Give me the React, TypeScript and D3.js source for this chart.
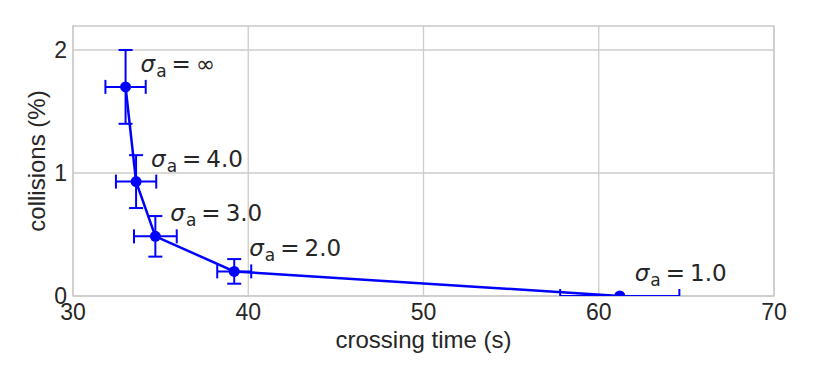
import React, { useRef, useEffect } from 'react';
import * as d3 from 'd3';

// crossing time (s) vs collision rate (%) for each sigma_a
const labels = ['∞', '4.0', '3.0', '2.0', '1.0'];
const crossingTime = [33.0, 33.6, 34.7, 39.2, 61.2];
const crossingErr = [1.15, 1.15, 1.22, 0.97, 3.4];
const collisions = [1.7, 0.93, 0.485, 0.2, 0.0];
const collisionsErr = [0.3, 0.215, 0.165, 0.1, 0.0];
const xTicks = [30, 40, 50, 60, 70];
const yTicks = [0, 1, 2];

const App = () => {
  const svgRef = useRef<SVGSVGElement>(null);
  const width = 814;
  const height = 380;

  useEffect(() => {
    const svg = d3.select(svgRef.current);
    svg.selectAll('*').remove();

    const margin = { top: 26, right: 40, bottom: 84, left: 73 };
    const innerWidth = width - margin.left - margin.right;
    const innerHeight = height - margin.top - margin.bottom;
    const textColor = '#262626';
    const gridColor = '#cccccc';
    const blue = '#0000ff';

    const x = d3.scaleLinear().domain([30, 70]).range([0, innerWidth]);
    const y = d3.scaleLinear().domain([0, 2.195]).range([innerHeight, 0]);

    svg.append('defs')
      .append('clipPath')
      .attr('id', 'plot-clip')
      .append('rect')
      .attr('width', innerWidth)
      .attr('height', innerHeight);

    const chart = svg.append('g').attr('transform', `translate(${margin.left},${margin.top})`);

    // grid
    chart.selectAll('.xgrid').data(xTicks).enter().append('line')
      .attr('x1', d => x(d)).attr('x2', d => x(d))
      .attr('y1', 0).attr('y2', innerHeight)
      .attr('stroke', gridColor).attr('stroke-width', 1.3);
    chart.selectAll('.ygrid').data(yTicks).enter().append('line')
      .attr('x1', 0).attr('x2', innerWidth)
      .attr('y1', d => y(d)).attr('y2', d => y(d))
      .attr('stroke', gridColor).attr('stroke-width', 1.3);

    // frame
    chart.append('rect')
      .attr('width', innerWidth).attr('height', innerHeight)
      .attr('fill', 'none').attr('stroke', gridColor).attr('stroke-width', 1.6);

    // tick labels
    chart.selectAll('.xtick').data(xTicks).enter().append('text')
      .attr('x', d => x(d)).attr('y', innerHeight + 24)
      .attr('text-anchor', 'middle')
      .attr('font-family', 'Liberation Sans, Arial, sans-serif')
      .attr('font-size', 23).attr('fill', textColor)
      .text(d => d);
    chart.selectAll('.ytick').data(yTicks).enter().append('text')
      .attr('x', -6).attr('y', d => y(d) + 8)
      .attr('text-anchor', 'end')
      .attr('font-family', 'Liberation Sans, Arial, sans-serif')
      .attr('font-size', 23).attr('fill', textColor)
      .text(d => d);

    const data = crossingTime.map((t, i) => ({
      t, c: collisions[i], te: crossingErr[i], ce: collisionsErr[i], label: labels[i],
    }));

    const plot = chart.append('g').attr('clip-path', 'url(#plot-clip)');

    // connecting line
    plot.append('path')
      .datum(data)
      .attr('fill', 'none').attr('stroke', blue).attr('stroke-width', 2.5)
      .attr('d', d3.line<any>().x(d => x(d.t)).y(d => y(d.c)));

    const cap = 7;
    data.forEach(d => {
      const g = plot.append('g').attr('stroke', blue).attr('stroke-width', 2);
      // horizontal error
      g.append('line')
        .attr('x1', x(d.t - d.te)).attr('x2', x(d.t + d.te))
        .attr('y1', y(d.c)).attr('y2', y(d.c));
      [d.t - d.te, d.t + d.te].forEach(v => {
        g.append('line')
          .attr('x1', x(v)).attr('x2', x(v))
          .attr('y1', y(d.c) - cap).attr('y2', y(d.c) + cap);
      });
      // vertical error
      if (d.ce > 0) {
        g.append('line')
          .attr('x1', x(d.t)).attr('x2', x(d.t))
          .attr('y1', y(d.c - d.ce)).attr('y2', y(d.c + d.ce));
        [d.c - d.ce, d.c + d.ce].forEach(v => {
          g.append('line')
            .attr('x1', x(d.t) - cap).attr('x2', x(d.t) + cap)
            .attr('y1', y(v)).attr('y2', y(v));
        });
      }
      plot.append('circle')
        .attr('cx', x(d.t)).attr('cy', y(d.c)).attr('r', 5.5)
        .attr('fill', blue);
    });

    // annotations
    data.forEach(d => {
      const t = chart.append('text')
        .attr('x', x(d.t) + 15).attr('y', y(d.c) - 15)
        .attr('font-family', 'DejaVu Sans, sans-serif')
        .attr('font-size', 23).attr('fill', textColor);
      t.append('tspan').attr('font-style', 'italic').text('σ');
      t.append('tspan').attr('font-size', 17).attr('dy', 5).attr('dx', 1).text('a');
      t.append('tspan').attr('dy', -5).attr('dx', 5).text('=');
      t.append('tspan').attr('dx', 5).text(d.label);
    });

    // axis labels
    svg.append('text')
      .attr('x', margin.left + innerWidth / 2).attr('y', height - 32)
      .attr('text-anchor', 'middle')
      .attr('font-family', 'Liberation Sans, Arial, sans-serif')
      .attr('font-size', 24).attr('fill', textColor)
      .text('crossing time (s)');
    svg.append('text')
      .attr('transform', 'rotate(-90)')
      .attr('x', -(margin.top + innerHeight / 2)).attr('y', 45)
      .attr('text-anchor', 'middle')
      .attr('font-family', 'Liberation Sans, Arial, sans-serif')
      .attr('font-size', 24).attr('fill', textColor)
      .text('collisions (%)');
  }, []);

  return (
    <svg
      ref={svgRef}
      width={width}
      height={height}
      style={{ position: 'absolute', left: 0, top: 0, background: '#ffffff' }}
    />
  );
};

export default App;
